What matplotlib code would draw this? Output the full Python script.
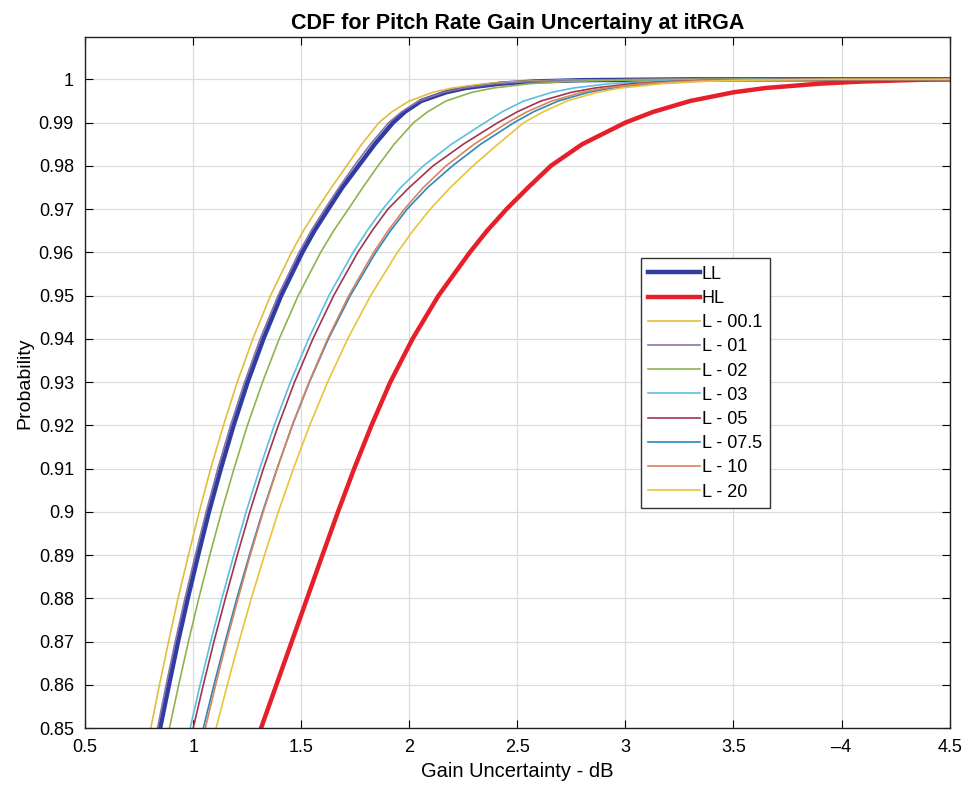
import matplotlib
matplotlib.use("Agg")
from matplotlib import pyplot as plt

plt.rcParams["font.family"] = ["Liberation Sans", "DejaVu Sans"]

# Probability levels at which the curves were read
prob = [0.85, 0.86, 0.87, 0.88, 0.89, 0.90, 0.91, 0.92, 0.93, 0.94, 0.95, 0.96, 0.965,
        0.97, 0.975, 0.98, 0.985, 0.99, 0.9925, 0.995, 0.997, 0.998, 0.999, 0.9995,
        0.9998, 1.0, 1.0]

# Gain uncertainty (dB) of each curve at those probability levels
ll = [0.847, 0.888, 0.930, 0.975, 1.023, 1.073, 1.128, 1.187, 1.252, 1.325, 1.407, 1.505,
      1.561, 1.625, 1.69, 1.765, 1.84, 1.925, 1.98, 2.055, 2.17, 2.26, 2.42, 2.58, 2.8, 3.3, 4.5]
hl = [1.314, 1.385, 1.456, 1.527, 1.598, 1.670, 1.745, 1.825, 1.912, 2.015, 2.135, 2.28,
      2.36, 2.45, 2.55, 2.655, 2.80, 3.0, 3.13, 3.3, 3.5, 3.65, 3.9, 4.1, 4.3, 4.45, 4.5]
l_001 = [0.804, 0.844, 0.886, 0.930, 0.978, 1.028, 1.081, 1.140, 1.204, 1.276, 1.358, 1.455,
         1.510, 1.573, 1.64, 1.71, 1.78, 1.86, 1.92, 2.0, 2.11, 2.2, 2.35, 2.5, 2.7, 3.2, 4.5]
l_01 = [0.835, 0.875, 0.917, 0.962, 1.010, 1.060, 1.114, 1.173, 1.238, 1.310, 1.393, 1.490,
        1.546, 1.609, 1.675, 1.745, 1.82, 1.905, 1.965, 2.045, 2.16, 2.25, 2.4, 2.56, 2.78, 3.25, 4.5]
l_02 = [0.890, 0.933, 0.978, 1.026, 1.077, 1.131, 1.189, 1.251, 1.321, 1.398, 1.486, 1.590,
        1.650, 1.718, 1.785, 1.855, 1.93, 2.02, 2.085, 2.17, 2.29, 2.39, 2.56, 2.73, 2.95, 3.4, 4.5]
l_03 = [0.986, 1.032, 1.081, 1.133, 1.188, 1.245, 1.308, 1.375, 1.450, 1.534, 1.628, 1.740,
        1.805, 1.877, 1.96, 2.065, 2.195, 2.35, 2.43, 2.53, 2.66, 2.76, 2.93, 3.1, 3.3, 3.7, 4.5]
l_05 = [1.000, 1.047, 1.096, 1.149, 1.204, 1.262, 1.325, 1.394, 1.469, 1.554, 1.650, 1.762,
        1.828, 1.901, 2.0, 2.11, 2.25, 2.41, 2.5, 2.61, 2.75, 2.86, 3.03, 3.2, 3.4, 3.8, 4.5]
l_075 = [1.047, 1.096, 1.148, 1.202, 1.260, 1.321, 1.388, 1.459, 1.538, 1.626, 1.727, 1.845,
         1.913, 1.990, 2.085, 2.20, 2.33, 2.485, 2.575, 2.69, 2.83, 2.94, 3.12, 3.3, 3.5, 3.9, 4.5]
l_10 = [1.056, 1.104, 1.154, 1.208, 1.264, 1.324, 1.389, 1.458, 1.536, 1.622, 1.720, 1.835,
        1.902, 1.977, 2.065, 2.17, 2.30, 2.455, 2.545, 2.66, 2.80, 2.91, 3.08, 3.25, 3.45, 3.85, 4.5]
l_20 = [1.106, 1.158, 1.212, 1.269, 1.330, 1.394, 1.464, 1.539, 1.622, 1.715, 1.821, 1.945,
        2.017, 2.097, 2.19, 2.295, 2.41, 2.53, 2.62, 2.73, 2.87, 2.98, 3.17, 3.35, 3.55, 4.0, 4.5]

x_ticks = [0.5, 1, 1.5, 2, 2.5, 3, 3.5, 4, 4.5]
x_tick_labels = ["0.5", "1", "1.5", "2", "2.5", "3", "3.5", "\u20134", "4.5"]
y_ticks = [0.85, 0.86, 0.87, 0.88, 0.89, 0.9, 0.91, 0.92, 0.93, 0.94,
           0.95, 0.96, 0.97, 0.98, 0.99, 1.0]
y_tick_labels = ["0.85", "0.86", "0.87", "0.88", "0.89", "0.9", "0.91", "0.92", "0.93",
                 "0.94", "0.95", "0.96", "0.97", "0.98", "0.99", "1"]


fig = plt.figure(figsize=(9.67, 7.95), dpi=100)
ax = fig.add_axes([0.088, 0.084, 0.894, 0.869])

ax.plot(ll, prob, color="#2f3da3", linewidth=3.2, label="LL")
ax.plot(hl, prob, color="#e5202a", linewidth=3.2, label="HL")
ax.plot(l_001, prob, color="#e3bd3c", linewidth=1.2, label="L - 00.1")
ax.plot(l_01, prob, color="#8c72a6", linewidth=1.2, label="L - 01")
ax.plot(l_02, prob, color="#8fb350", linewidth=1.2, label="L - 02")
ax.plot(l_03, prob, color="#5bc0e0", linewidth=1.2, label="L - 03")
ax.plot(l_05, prob, color="#a3344e", linewidth=1.2, label="L - 05")
ax.plot(l_075, prob, color="#2a88bd", linewidth=1.2, label="L - 07.5")
ax.plot(l_10, prob, color="#d9825e", linewidth=1.2, label="L - 10")
ax.plot(l_20, prob, color="#e6c53a", linewidth=1.2, label="L - 20")

ax.set_xlim(0.5, 4.5)
ax.set_ylim(0.85, 1.0097)
ax.set_xticks(x_ticks)
ax.set_xticklabels(x_tick_labels)
ax.set_yticks(y_ticks)
ax.set_yticklabels(y_tick_labels)
ax.tick_params(direction="in", length=6, top=True, right=True, labelsize=13, pad=8)
ax.grid(True, color="#dcdcdc", linewidth=0.9)
for s in ax.spines.values():
    s.set_color("#222222")
    s.set_linewidth(1.0)

ax.set_title("CDF for Pitch Rate Gain Uncertainy at itRGA", fontsize=15.5,
             fontweight="bold", pad=6)
ax.set_xlabel("Gain Uncertainty - dB", fontsize=14.5, labelpad=4)
ax.set_ylabel("Probability", fontsize=14, labelpad=4)

leg = ax.legend(loc="upper left", bbox_to_anchor=(0.6425, 0.68), fontsize=13,
                handlelength=2.9, handletextpad=0.1, labelspacing=0.40,
                borderpad=0.4, borderaxespad=0, fancybox=False, framealpha=1)
leg.get_frame().set_edgecolor("#333333")
leg.get_frame().set_linewidth(1.0)

fig.savefig("out.png", dpi=100)
